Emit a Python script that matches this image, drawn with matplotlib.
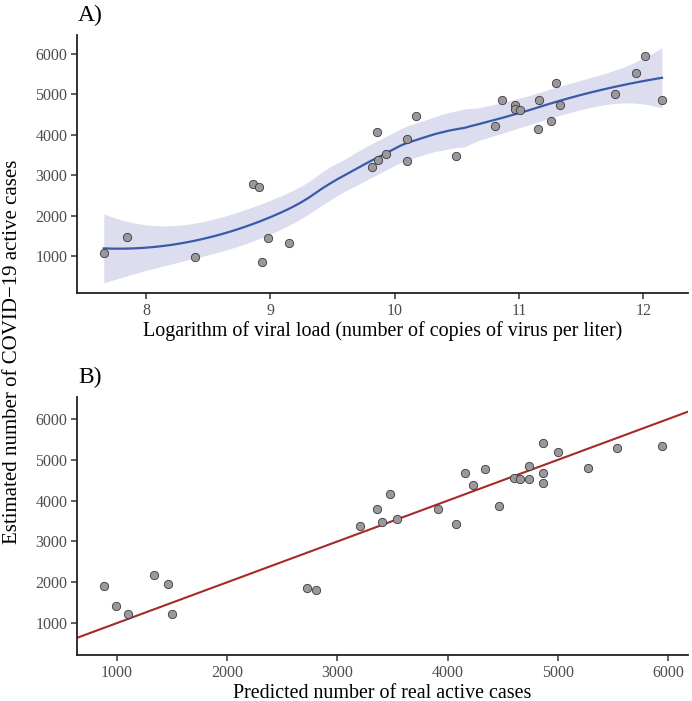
import numpy as np
import matplotlib
matplotlib.use("Agg")
import matplotlib.pyplot as plt

plt.rcParams['font.family'] = ['Liberation Serif', 'DejaVu Serif']

# panel A: viral load (log) vs active cases
viral_load = [7.66, 7.85, 8.39, 8.86, 8.91, 8.93, 8.98, 9.15, 9.82, 9.86,
              9.87, 9.93, 10.10, 10.10, 10.17, 10.49, 10.81, 10.86, 10.97, 10.97,
              11.01, 11.15, 11.16, 11.26, 11.30, 11.33, 11.77, 11.94, 12.01, 12.15]
active_cases = [1080, 1477, 975, 2785, 2720, 869, 1452, 1320, 3198, 4070,
                3388, 3526, 3905, 3346, 4464, 3469, 4227, 4869, 4728, 4646,
                4605, 4152, 4869, 4333, 5279, 4728, 5000, 5543, 5946, 4869]

# panel B: predicted real vs estimated
predicted_real = [882, 991, 1097, 1336, 1466, 1499, 2727, 2803, 3205, 3357,
                  3402, 3480, 3538, 3910, 4076, 4161, 4230, 4337, 4469, 4603,
                  4654, 4739, 4739, 4869, 4869, 4869, 5005, 5274, 5540, 5943]
estimated = [1900, 1409, 1213, 2184, 1956, 1213, 1866, 1809, 3370, 3790,
             3467, 4169, 3549, 3794, 3434, 4676, 4382, 4775, 3876, 4554,
             4522, 4840, 4522, 5404, 4684, 4431, 5184, 4806, 5289, 5338]


def loess_fit(x, y, xg, span=0.75):
    # local quadratic regression with tricube weights (like R loess defaults)
    x = np.asarray(x, float)
    y = np.asarray(y, float)
    n = len(x)
    q = int(np.floor(span * n))

    def lrow(x0):
        d = np.abs(x - x0)
        h = np.sort(d)[q - 1]
        w = np.clip(1 - (d / h) ** 3, 0, None) ** 3
        X = np.column_stack([np.ones(n), x - x0, (x - x0) ** 2])
        W = np.diag(w)
        A = np.linalg.solve(X.T @ W @ X, X.T @ W)
        return A[0]

    L = np.array([lrow(v) for v in x])
    res = y - L @ y
    M = np.eye(n) - L
    MM = M.T @ M
    one_delta = np.trace(MM)
    two_delta = np.trace(MM @ MM)
    s = np.sqrt(np.sum(res ** 2) / one_delta)
    df = one_delta ** 2 / two_delta
    z = 1.959964
    t = z + (z ** 3 + z) / (4 * df) + (5 * z ** 5 + 16 * z ** 3 + 3 * z) / (96 * df ** 2)
    Lg = np.array([lrow(v) for v in xg])
    fit = Lg @ y
    se = s * np.sqrt(np.sum(Lg ** 2, axis=1))
    return fit, fit - t * se, fit + t * se


fig = plt.figure(figsize=(6.92, 7.01), dpi=100)
ax1 = fig.add_axes([0.1113, 0.582, 0.883, 0.368])
ax2 = fig.add_axes([0.1113, 0.0656, 0.883, 0.368])

xg = np.linspace(min(viral_load), max(viral_load), 80)
fit, lo, hi = loess_fit(viral_load, active_cases, xg)
ax1.fill_between(xg, lo, hi, color='#dcdef0', lw=0, zorder=1)
ax1.plot(xg, fit, color='#3a5aa8', lw=1.6, zorder=2)
ax1.scatter(viral_load, active_cases, s=36, c='#9a989c', edgecolors='#3a3a3a',
            linewidths=0.6, zorder=3)
ax1.set_xlim(7.445, 12.36)
ax1.set_ylim(90, 6470)
ax1.set_xticks([8, 9, 10, 11, 12])
ax1.set_yticks([1000, 2000, 3000, 4000, 5000, 6000])
ax1.set_xlabel("Logarithm of viral load (number of copies of virus per liter)",
               fontsize=14.4, labelpad=2)

ax2.axline((0, 0), slope=1, color='#a52a2a', lw=1.5, zorder=2)
ax2.scatter(predicted_real, estimated, s=36, c='#9a989c', edgecolors='#3a3a3a',
            linewidths=0.6, zorder=3)
ax2.set_xlim(637, 6181)
ax2.set_ylim(216, 6539)
ax2.set_xticks([1000, 2000, 3000, 4000, 5000, 6000])
ax2.set_yticks([1000, 2000, 3000, 4000, 5000, 6000])
ax2.set_xlabel("Predicted number of real active cases", fontsize=14.4, labelpad=2)

for ax in (ax1, ax2):
    for sp in ('top', 'right'):
        ax.spines[sp].set_visible(False)
    for sp in ('left', 'bottom'):
        ax.spines[sp].set_linewidth(1.3)
        ax.spines[sp].set_color('#222222')
    ax.tick_params(direction='out', length=4, width=1.1, color='#333333',
                   labelsize=11.5, labelcolor='#4d4d4d', pad=3)

fig.text(0.113, 0.978, "A)", fontsize=17, va='center', ha='left')
fig.text(0.113, 0.462, "B)", fontsize=17, va='center', ha='left')
fig.text(0.018, 1 - 352 / 701, "Estimated number of COVID\u221219 active cases",
         fontsize=15, rotation=90, va='center', ha='center')

fig.savefig("out.png", dpi=100)
